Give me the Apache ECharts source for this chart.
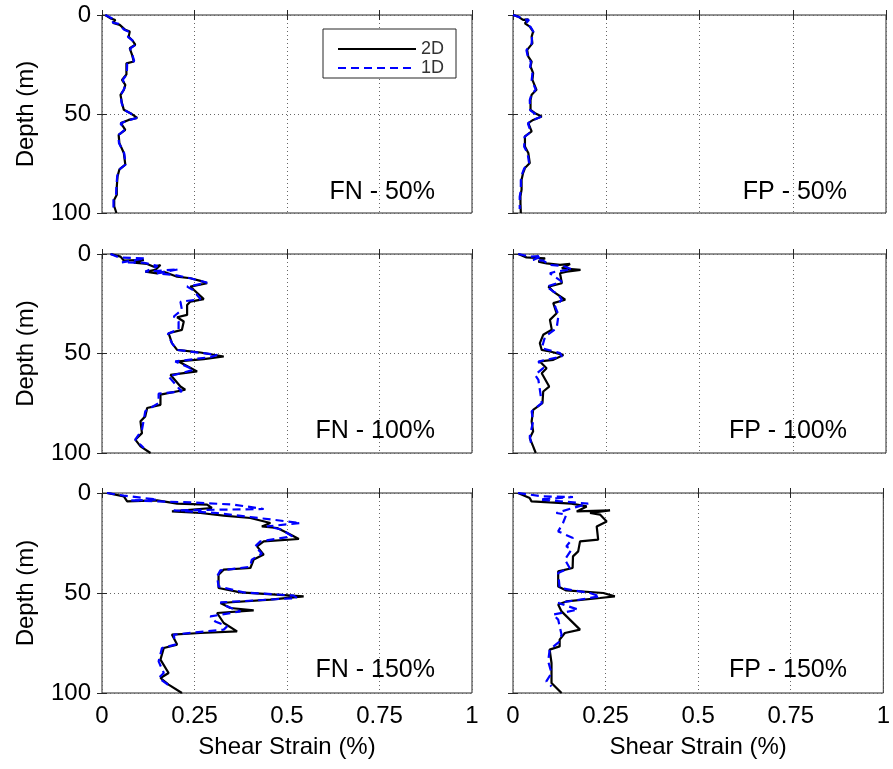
<!DOCTYPE html>
<html>
<head>
<meta charset="utf-8">
<title>Shear strain profiles</title>
<script src="https://cdn.jsdelivr.net/npm/echarts@6/dist/echarts.min.js"></script>
<style>
  html, body { margin: 0; padding: 0; background: #fff; }
  #chart { width: 893px; height: 769px; }
</style>
</head>
<body>
<div id="chart"></div>
<script>
// Shear strain (%) versus depth (m), pairs of [strain, depth]
const panelNames = ['FN - 50%', 'FP - 50%', 'FN - 100%', 'FP - 100%', 'FN - 150%', 'FP - 150%'];
const seriesNames = ['2D', '1D'];
const strainTicks = [0, 0.25, 0.5, 0.75, 1];
const depthTicks = [0, 50, 100];

const fn50_2d = [[0.009,0],[0.023,1.7],[0.036,2.5],[0.03,4],[0.048,5],[0.063,7.5],[0.075,8.4],[0.072,11],[0.081,12.6],[0.09,15],[0.075,16.8],[0.081,20],[0.086,23.5],[0.066,24.4],[0.066,30],[0.054,32.8],[0.063,35.3],[0.059,37.8],[0.05,40.3],[0.054,44.5],[0.059,47.9],[0.077,49.6],[0.095,52],[0.072,53],[0.051,54.6],[0.063,58],[0.045,60.5],[0.047,64.7],[0.059,69.7],[0.063,75.6],[0.047,78],[0.042,81.5],[0.04,86.6],[0.04,90.8],[0.033,93.3],[0.033,96.6],[0.039,100]];
const fn50_1d = [[0.009,0],[0.025,1.5],[0.035,2.7],[0.028,3.8],[0.045,4.5],[0.06,7.5],[0.075,8.6],[0.07,11],[0.082,12.8],[0.091,15],[0.076,17],[0.082,20],[0.087,23.3],[0.068,24.6],[0.067,30],[0.056,32.8],[0.064,35.5],[0.058,38],[0.05,40.5],[0.053,44.5],[0.06,48],[0.078,49.8],[0.094,52],[0.07,53.2],[0.05,54.8],[0.062,58],[0.044,60.7],[0.046,64.8],[0.06,69.8],[0.064,75.5],[0.046,78.2],[0.041,81.6],[0.039,86.5],[0.038,90.6],[0.031,93.4],[0.031,96.8],[0.035,99]];

const fp50_2d = [[0,0],[0.014,0.8],[0.027,2.5],[0.041,2.2],[0.032,4.2],[0.045,5.9],[0.054,8.4],[0.05,10.9],[0.052,14.3],[0.038,17.6],[0.041,21],[0.05,23.5],[0.047,26],[0.054,29.4],[0.052,32.8],[0.063,37.8],[0.05,40.3],[0.047,42.9],[0.047,47.9],[0.059,49.6],[0.077,51.3],[0.054,53],[0.041,54.6],[0.05,58.8],[0.032,61.3],[0.032,66.4],[0.041,69.7],[0.045,74.8],[0.032,77.3],[0.027,79.8],[0.023,83.2],[0.023,88.2],[0.02,91.6],[0.02,95],[0.021,100]];
const fp50_1d = [[0,0],[0.016,1],[0.03,2.3],[0.043,2.4],[0.034,4.4],[0.047,6],[0.055,8.6],[0.051,11],[0.05,14.5],[0.036,17.8],[0.04,21.2],[0.048,23.7],[0.046,26.2],[0.052,29.6],[0.05,33],[0.061,37.6],[0.049,40.5],[0.045,43],[0.046,48],[0.058,49.8],[0.075,51.4],[0.052,53.2],[0.04,54.8],[0.048,59],[0.031,61.5],[0.03,66.5],[0.039,69.8],[0.043,74.6],[0.03,77.5],[0.025,80],[0.021,83.4],[0.021,88.4],[0.018,91.8],[0.018,95.2],[0.018,98]];

const fn100_2d = [[0.023,0],[0.05,1.3],[0.059,3.3],[0.113,3],[0.086,4.4],[0.122,5],[0.14,6.4],[0.158,5.5],[0.144,8],[0.117,8.9],[0.149,9.7],[0.167,8.9],[0.203,11.4],[0.239,12.2],[0.266,13.5],[0.284,14.7],[0.239,16.4],[0.248,18],[0.275,22.7],[0.239,23.9],[0.23,25.6],[0.23,30.6],[0.203,31.8],[0.221,33.9],[0.216,38.1],[0.18,39.8],[0.189,44.8],[0.203,48.2],[0.266,49.5],[0.329,51.5],[0.275,52.8],[0.207,54],[0.257,59],[0.185,60.7],[0.212,66.6],[0.225,68.2],[0.158,70.7],[0.158,75.8],[0.122,77.4],[0.117,81.6],[0.104,84.1],[0.108,90],[0.09,93.3],[0.104,96.7],[0.131,100]];
const fn100_1d = [[0.023,0],[0.045,1.7],[0.117,2.2],[0.054,4.2],[0.113,4.4],[0.15,6],[0.117,8.9],[0.207,7.7],[0.149,9.7],[0.195,10.5],[0.239,12.2],[0.284,14.4],[0.23,16.4],[0.245,18],[0.257,20.6],[0.266,22.7],[0.212,24],[0.216,28.1],[0.194,31.4],[0.207,33.9],[0.207,37.8],[0.178,40.1],[0.189,44.8],[0.203,48.2],[0.311,50.7],[0.293,51.8],[0.198,54],[0.248,58.2],[0.18,61.5],[0.207,67.4],[0.216,69],[0.153,70.2],[0.153,74.9],[0.117,79],[0.113,83.3],[0.108,88.3],[0.09,93.3],[0.113,97.5]];

const fp100_2d = [[0.014,0],[0.036,1.7],[0.086,2.2],[0.068,3.8],[0.09,4.7],[0.126,5.5],[0.153,5],[0.131,7.2],[0.181,8],[0.144,8.9],[0.126,9.7],[0.131,14.7],[0.095,16.4],[0.108,18.9],[0.14,23],[0.108,24.7],[0.117,29.8],[0.099,33.1],[0.104,38],[0.081,40.6],[0.072,44.8],[0.077,48.2],[0.099,49],[0.135,50.7],[0.108,53.2],[0.072,54],[0.09,57.4],[0.077,59.9],[0.097,66.6],[0.081,69.1],[0.079,74.9],[0.054,78.3],[0.05,84.1],[0.054,89.1],[0.045,92.5],[0.054,96.7],[0.061,100]];
const fp100_1d = [[0.014,0],[0.045,1.3],[0.077,1],[0.054,3],[0.081,3.3],[0.099,5.5],[0.135,6],[0.158,7.7],[0.113,8.9],[0.099,9.7],[0.131,13.9],[0.09,16.4],[0.122,20.6],[0.131,23],[0.113,26.4],[0.122,30.6],[0.117,37.3],[0.086,41.5],[0.081,44.8],[0.077,47.3],[0.126,49.8],[0.131,51.5],[0.068,54],[0.081,57.4],[0.059,60.7],[0.068,63.2],[0.072,68.2],[0.077,74.9],[0.05,79.1],[0.054,84.1],[0.045,91.6],[0.05,96.7]];

const fn150_2d = [[0.0135,0],[0.059,1.7],[0.068,4.2],[0.149,3.7],[0.203,5.3],[0.284,5.8],[0.297,7.5],[0.189,9.2],[0.266,10],[0.329,11.3],[0.401,12.5],[0.455,15],[0.432,16.7],[0.473,17.5],[0.482,18.3],[0.509,20.8],[0.532,23],[0.437,24.2],[0.419,26.7],[0.437,30.8],[0.41,33.3],[0.401,37.5],[0.329,38.3],[0.315,40.8],[0.315,47.5],[0.374,49.7],[0.545,51.7],[0.455,53.3],[0.32,55],[0.347,57.5],[0.41,58.7],[0.311,60],[0.329,65],[0.365,69.2],[0.266,70],[0.189,70.8],[0.203,75.8],[0.167,77.5],[0.158,83.3],[0.18,90],[0.158,92.5],[0.18,95.8],[0.216,100]];
const fn150_1d = [[0.0135,0],[0.059,1.3],[0.149,3.3],[0.077,3.7],[0.239,4.7],[0.356,5.8],[0.437,8],[0.194,8.7],[0.311,10],[0.401,12],[0.536,15],[0.446,16.7],[0.486,18.3],[0.514,21.7],[0.428,24.2],[0.414,26.7],[0.432,30.3],[0.405,33.3],[0.4,36.9],[0.32,38.7],[0.311,41.7],[0.315,46.7],[0.383,49.7],[0.518,51.3],[0.527,52.5],[0.32,54.7],[0.338,56.7],[0.374,59.2],[0.293,61.7],[0.306,64.2],[0.338,66.7],[0.329,68.3],[0.194,70.8],[0.198,75.8],[0.162,77.5],[0.153,84.2],[0.167,90],[0.153,92.5],[0.185,96.7]];

const fp150_2d = [[0.0135,0],[0.045,2.5],[0.05,4.2],[0.099,4.7],[0.158,5.3],[0.199,6.7],[0.172,9.2],[0.262,8.7],[0.208,10],[0.235,10.8],[0.253,14.2],[0.226,16.7],[0.23,23.3],[0.181,24.2],[0.176,29.2],[0.162,31.7],[0.161,37.5],[0.122,39.2],[0.122,46.7],[0.144,48.7],[0.244,50],[0.275,51.7],[0.235,52.5],[0.144,54.2],[0.122,55.8],[0.131,59.2],[0.181,68.3],[0.14,70],[0.126,73.3],[0.126,76.7],[0.099,78.3],[0.104,85],[0.104,95],[0.131,100]];
const fp150_1d = [[0.0135,0],[0.081,1.7],[0.162,2],[0.072,3.3],[0.203,5.3],[0.162,7.5],[0.117,10],[0.144,10.8],[0.135,15],[0.122,19.2],[0.162,22.5],[0.144,26.7],[0.158,28.3],[0.14,33.3],[0.153,37.5],[0.122,40],[0.126,47.5],[0.208,50],[0.235,51.7],[0.122,55],[0.176,58.3],[0.108,60.8],[0.122,63.3],[0.131,70.8],[0.126,74.2],[0.099,78.3],[0.095,84.2],[0.104,90],[0.09,94.2],[0.104,96.7]];

const panelData = [
  [fn50_2d, fn50_1d], [fp50_2d, fp50_1d],
  [fn100_2d, fn100_1d], [fp100_2d, fp100_1d],
  [fn150_2d, fn150_1d], [fp150_2d, fp150_1d]
];

// Panel frames: two columns, three rows
const colLeft = [102, 513];
const colWidth = [370, 373];
const rowTop = [15, 254, 493];
const rowHeight = [198, 199, 200];

const FONT = '"Liberation Sans", Arial, Helvetica, sans-serif';
const frameColor = '#262626';
const gridDots = { color: '#666', width: 1, type: [1, 3] };

const grids = [], xAxes = [], yAxes = [], series = [], titles = [];

panelData.forEach((pair, p) => {
  const col = p % 2, row = Math.floor(p / 2);
  const isBottom = row === 2, isLeft = col === 0;
  grids.push({
    left: colLeft[col], top: rowTop[row], width: colWidth[col], height: rowHeight[row],
    show: true, borderColor: frameColor, borderWidth: 1, backgroundColor: '#fff'
  });
  const xBase = {
    type: 'value', gridIndex: p, min: strainTicks[0], max: strainTicks[strainTicks.length - 1],
    interval: strainTicks[1] - strainTicks[0],
    axisLine: { show: false },
    axisTick: { show: true, inside: true, length: 5, lineStyle: { color: frameColor } }
  };
  xAxes.push(Object.assign({}, xBase, {
    position: 'bottom',
    splitLine: { show: true, lineStyle: gridDots },
    axisLabel: {
      show: isBottom, margin: 11, fontSize: 24, color: '#000', fontFamily: FONT,
      formatter: v => String(v)
    },
    name: isBottom ? 'Shear Strain (%)' : '',
    nameLocation: 'middle', nameGap: 42,
    nameTextStyle: { fontSize: 24, color: '#000', fontFamily: FONT }
  }));
  xAxes.push(Object.assign({}, xBase, {
    position: 'top', splitLine: { show: false }, axisLabel: { show: false }
  }));
  const yBase = {
    type: 'value', gridIndex: p, min: depthTicks[0], max: depthTicks[depthTicks.length - 1],
    interval: depthTicks[1] - depthTicks[0], inverse: true,
    axisLine: { show: false },
    axisTick: { show: true, inside: true, length: 5, lineStyle: { color: frameColor } }
  };
  yAxes.push(Object.assign({}, yBase, {
    position: 'left',
    splitLine: { show: true, lineStyle: gridDots },
    axisLabel: { show: isLeft, margin: 11, fontSize: 24, color: '#000', fontFamily: FONT },
    name: isLeft ? 'Depth (m)' : '',
    nameLocation: 'middle', nameGap: 64,
    nameTextStyle: { fontSize: 24, color: '#000', fontFamily: FONT }
  }));
  yAxes.push(Object.assign({}, yBase, {
    position: 'right', splitLine: { show: false }, axisLabel: { show: false }
  }));

  series.push({
    name: seriesNames[0], type: 'line', xAxisIndex: 2 * p, yAxisIndex: 2 * p,
    data: pair[0], symbol: 'none', silent: true, z: 3,
    lineStyle: { color: '#000', width: 2.2 }, itemStyle: { color: '#000' }
  });
  series.push({
    name: seriesNames[1], type: 'line', xAxisIndex: 2 * p, yAxisIndex: 2 * p,
    data: pair[1], symbol: 'none', silent: true, z: 4,
    lineStyle: { color: '#0000ff', width: 2.2, type: [8, 5] }, itemStyle: { color: '#0000ff' }
  });

  titles.push({
    text: panelNames[p],
    right: col === 0 ? 458 : 46,
    top: rowTop[row] + 165,
    padding: 0,
    textStyle: { fontSize: 25, fontWeight: 'normal', color: '#000', fontFamily: FONT }
  });
});

const chart = echarts.init(document.getElementById('chart'), null, { renderer: 'canvas' });
chart.setOption({
  backgroundColor: '#fff',
  animation: false,
  title: titles,
  legend: {
    data: seriesNames,
    orient: 'vertical',
    left: 323, top: 29,
    padding: [11, 12, 1, 14],
    itemWidth: 78, itemHeight: 14, itemGap: 1,
    borderColor: frameColor, borderWidth: 1, backgroundColor: '#fff',
    itemStyle: { opacity: 0, borderWidth: 0 },
    textStyle: { fontSize: 18, lineHeight: 14, color: '#333', fontFamily: FONT },
    selectedMode: false
  },
  grid: grids,
  xAxis: xAxes,
  yAxis: yAxes,
  series: series
});
</script>
</body>
</html>
